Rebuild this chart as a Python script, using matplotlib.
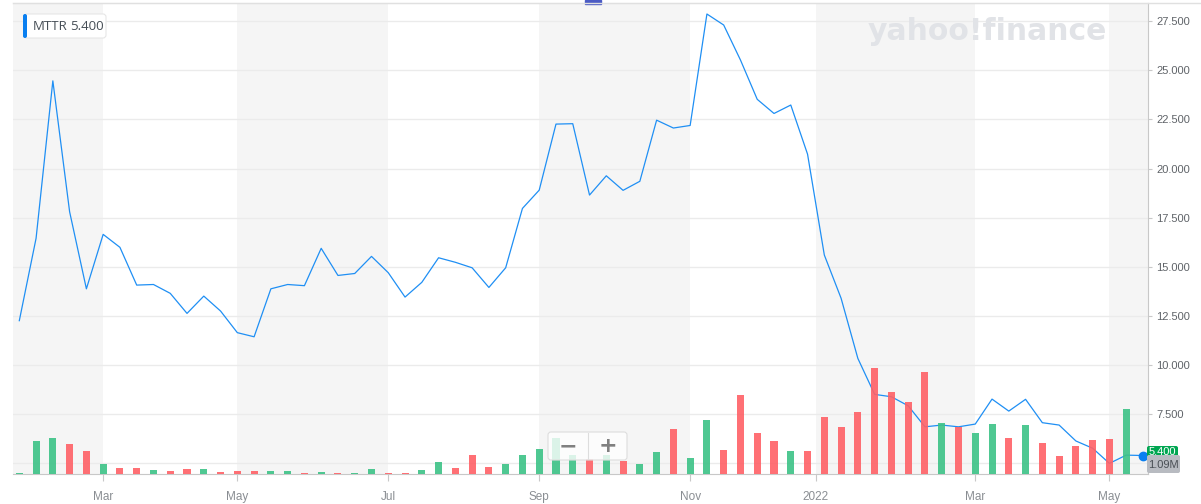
import numpy as np
import matplotlib
matplotlib.use("Agg")
import matplotlib.pyplot as plt
from matplotlib.patches import FancyBboxPatch, Rectangle

# weekly closes (index 0 = week of 2021-01-25)
price = [12.26, 16.45, 24.46, 17.80, 13.88, 16.65, 15.99, 14.07, 14.10, 13.65,
         12.63, 13.51, 12.75, 11.65, 11.44, 13.88, 14.10, 14.04, 15.94, 14.56,
         14.66, 15.53, 14.70, 13.46, 14.21, 15.46, 15.23, 14.95, 13.95, 14.95,
         17.97, 18.90, 22.26, 22.28, 18.65, 19.63, 18.89, 19.35, 22.46, 22.06,
         22.19, 27.86, 27.30, 25.52, 23.52, 22.80, 23.23, 20.73, 15.60, 13.40,
         10.34, 8.51, 8.39, 7.93, 6.86, 6.95, 6.86, 7.00, 8.27, 7.66,
         8.26, 7.07, 6.95, 6.14, 5.77, 5.00, 5.42, 5.40]

# weekly volume, millions (last value = current week, shown only as label)
volume = [0.26, 6.66, 7.26, 6.06, 4.66, 2.06, 1.26, 1.26, 0.86, 0.66,
          1.06, 1.06, 0.46, 0.66, 0.66, 0.66, 0.66, 0.26, 0.46, 0.26,
          0.26, 1.06, 0.26, 0.26, 0.86, 2.46, 1.26, 3.86, 1.46, 2.06,
          3.86, 5.06, 7.26, 3.86, 2.94, 3.86, 2.66, 2.06, 4.46, 9.06,
          3.26, 10.86, 4.86, 15.86, 8.26, 6.66, 4.66, 4.66, 11.46, 9.46,
          12.46, 21.26, 16.46, 14.46, 20.46, 10.26, 9.46, 8.26, 10.06, 7.26,
          9.86, 6.26, 3.66, 5.66, 6.86, 7.06, 13.06, 1.09]

updown = "gggrrgrrgrrgrrrggrgrggrrggrrrgggggrgrggrggrrrrgrrrrrrrrgrggrgrrrrrgg"

tick_pos = [5, 13, 22, 31, 40, 47.5, 57, 65]
tick_labels = ["Mar", "May", "Jul", "Sep", "Nov", "2022", "Mar", "May"]
price_ticks = [7.5, 10, 12.5, 15, 17.5, 20, 22.5, 25, 27.5]

W, H = 1201, 504
fig = plt.figure(figsize=(W / 100, H / 100), dpi=100)
x = np.arange(len(price))
xmin, xmax = -0.376, 67.3

ax = fig.add_axes([13 / W, 1 - 474 / H, (1148 - 13) / W, (474 - 3) / H])
ax.set_xlim(xmin, xmax)
ax.set_ylim(4.46, 28.42)

# alternating month shading
edges = [xmin] + tick_pos + [xmax]
for i in range(0, len(edges) - 1, 2):
    ax.axvspan(edges[i], edges[i + 1], color="#f5f5f5", lw=0, zorder=0)

for v in [5.0] + price_ticks:
    ax.axhline(v, color="#ebebeb", lw=1, zorder=1)

ax.plot(x, price, color="#1f8ff4", lw=0.9, zorder=3)
ax.plot(x[-1], price[-1], "o", color="#0a7ff0", ms=6, zorder=4)

# volume bars on twin axis, drawn over the line
axv = ax.twinx()
axv.set_ylim(0, 471 / 5)
cols = ["#3cc286" if c == "g" else "#ff6166" for c in updown]
axv.bar(x[:-1], volume[:-1], width=0.42, color=cols[:-1], alpha=0.9, zorder=2)
axv.set_yticks([])
for s in axv.spines.values():
    s.set_visible(False)
ax.set_zorder(1)
axv.set_zorder(2)
axv.patch.set_visible(False)

ax.yaxis.tick_right()
ax.yaxis.set_label_position("right")
ax.set_yticks(price_ticks)
ax.set_yticklabels([f"{v:.3f}" for v in price_ticks])
ax.tick_params(axis="y", length=3, width=0.8, color="#c8c8c8", pad=3,
               labelsize=8, labelcolor="#5f6368")
ax.set_xticks(tick_pos)
ax.set_xticklabels(tick_labels)
ax.tick_params(axis="x", length=5, width=0.8, color="#c8c8c8", pad=7,
               labelsize=8.5, labelcolor="#8a8e93")
for lab in ax.get_xticklabels() + ax.get_yticklabels():
    lab.set_family("Liberation Sans")
ax.spines["left"].set_visible(False)
ax.spines["top"].set_color("#e0e0e0")
ax.spines["right"].set_color("#c8c8c8")
ax.spines["bottom"].set_color("#c8c8c8")

# overlay in pixel coordinates
ov = fig.add_axes([0, 0, 1, 1], zorder=10)
ov.set_xlim(0, W)
ov.set_ylim(H, 0)
ov.axis("off")
ov.patch.set_visible(False)

ov.plot([13, W], [3, 3], color="#e0e0e0", lw=1)
ov.add_patch(Rectangle((585, 0), 16, 3.5, color="#4b5bc4"))

ov.text(987, 31, "yahoo!finance", ha="center", va="center", fontsize=21.5,
        fontweight="bold", color="#e1e3e7", family="DejaVu Sans")

ov.add_patch(FancyBboxPatch((24, 14), 82, 24, boxstyle="round,pad=0,rounding_size=3",
                            fc="white", ec="#e6e6e6", lw=0.8))
ov.add_patch(FancyBboxPatch((23, 14), 4, 24, boxstyle="round,pad=0,rounding_size=2",
                            fc="#0a7ff0", ec="none"))
ov.text(33, 26.5, "MTTR", ha="left", va="center", fontsize=9.5, color="#464e56",
        family="Open Sans")
ov.text(70, 26.5, f"{price[-1]:.3f}", ha="left", va="center", fontsize=9.5,
        color="#464e56", family="Open Sans")

ov.add_patch(FancyBboxPatch((548, 432), 79, 28, boxstyle="round,pad=0,rounding_size=3",
                            fc=(1, 1, 1, 0.8), ec="#dddddd", lw=0.8))
ov.plot([588, 588], [433, 459], color="#dddddd", lw=0.8)
ov.text(568, 446, "−", ha="center", va="center", fontsize=16, fontweight="bold",
        color="#808080")
ov.text(608, 446, "+", ha="center", va="center", fontsize=16, fontweight="bold",
        color="#808080")

ov.add_patch(FancyBboxPatch((1147, 446), 31, 12, boxstyle="round,pad=0,rounding_size=2",
                            fc="#00a651", ec="none"))
ov.text(1162, 452, f"{price[-1]:.3f}", ha="center", va="center", fontsize=8,
        color="white", family="Liberation Sans")
ov.add_patch(FancyBboxPatch((1147, 455), 33, 18, boxstyle="round,pad=0,rounding_size=2",
                            fc="#b8bbc1", ec="none"))
ov.text(1163, 464.5, f"{volume[-1]:.2f}M", ha="center", va="center", fontsize=8,
        color="#4a4f55", family="Liberation Sans")

fig.savefig("out.png", dpi=100)
